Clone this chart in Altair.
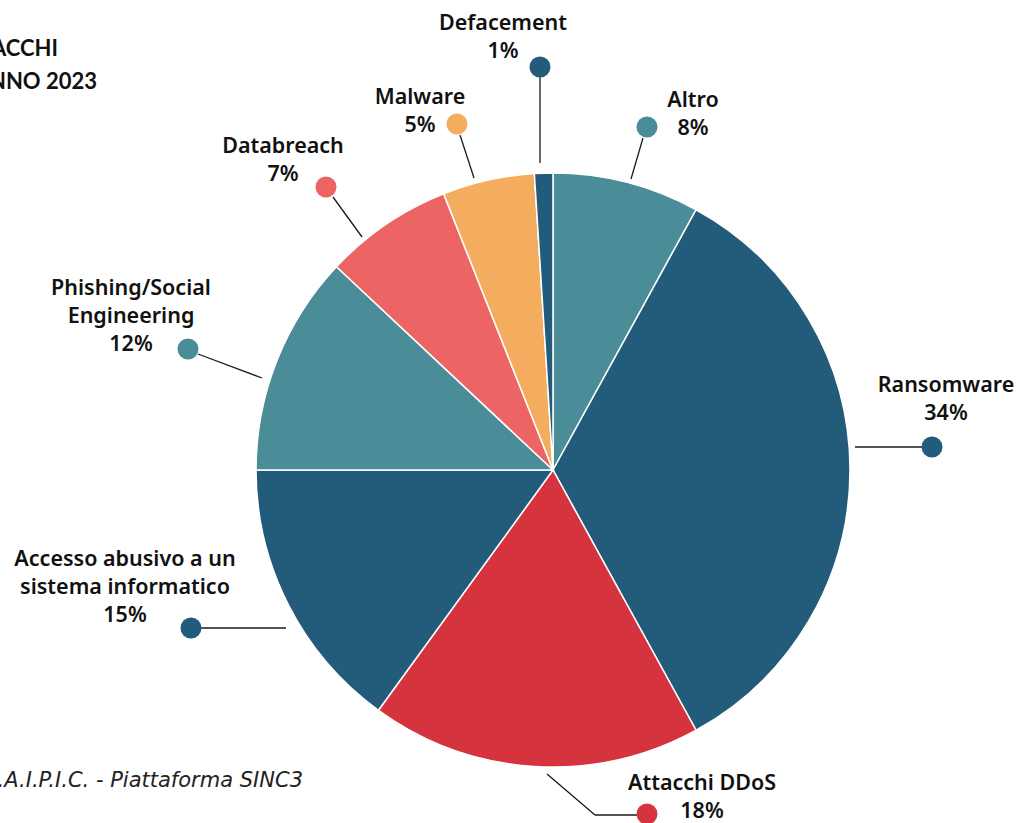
import altair as alt
import pandas as pd

# ---- data ----
categories = ["Altro", "Ransomware", "Attacchi DDoS", "Accesso abusivo a un sistema informatico",
              "Phishing/Social Engineering", "Databreach", "Malware", "Defacement"]
values = [8, 34, 18, 15, 12, 7, 5, 1]
colors = ["#4A8C97", "#225C7A", "#D5343F", "#225C7A", "#4A8C97", "#EC6464", "#F4AC5E", "#225C7A"]
label_lines = [
    ["Altro", "8%"],
    ["Ransomware", "34%"],
    ["Attacchi DDoS", "18%"],
    ["Accesso abusivo a un", "sistema informatico", "15%"],
    ["Phishing/Social", "Engineering", "12%"],
    ["Databreach", "7%"],
    ["Malware", "5%"],
    ["Defacement", "1%"],
]
title_lines = ["TIPOLOGIA ATTACCHI", "ANNO 2023"]
source_text = "Fonte: C.N.A.I.P.I.C. - Piattaforma SINC3"

# ---- layout (annotation placement, pixels) ----
W, H = 1016, 823
CX, CY, R = 553, 470, 297
label_pos = [  # x centre, first baseline
    (693, 107), (946, 392), (702, 790), (125, 566),
    (131, 295), (283, 153), (420, 104), (503, 30),
]
dot_pos = [(647, 127), (932, 447), (647, 814), (191, 628),
           (188, 349), (326, 187), (457, 124), (540, 67)]
leader_segments = [
    [(643, 138, 631, 179)],
    [(855, 447, 922, 447)],
    [(547, 774, 595, 815), (595, 815, 640, 815)],
    [(201, 628, 286, 628)],
    [(198, 354, 262, 378)],
    [(333, 197, 362, 237)],
    [(460, 135, 474, 178)],
    [(540, 77, 540, 163)],
]
LH = 28

pie_df = pd.DataFrame({"cat": categories, "value": values, "idx": range(len(values))})

txt_rows = []
for i, lines in enumerate(label_lines):
    x0, y0 = label_pos[i]
    for j, t in enumerate(lines):
        txt_rows.append({"t": t, "x": x0, "y": y0 + j * LH})
txt_df = pd.DataFrame(txt_rows)

dot_df = pd.DataFrame({"cat": categories, "x": [p[0] for p in dot_pos], "y": [p[1] for p in dot_pos]})

seg_rows = []
for segs in leader_segments:
    for (x1, y1, x2, y2) in segs:
        seg_rows.append({"x": x1, "y": y1, "x2": x2, "y2": y2})
seg_df = pd.DataFrame(seg_rows)

title_df = pd.DataFrame({"t": title_lines, "x": [58, 97], "y": [56, 89]})
src_df = pd.DataFrame({"t": [source_text], "x": [303], "y": [787]})

xs = alt.Scale(domain=[0, W], nice=False, zero=False)
ys = alt.Scale(domain=[0, H], nice=False, zero=False, reverse=True)
cscale = alt.Scale(domain=categories, range=colors)

pie = alt.Chart(pie_df).mark_arc(outerRadius=R, stroke="white", strokeWidth=1.5).encode(
    theta=alt.Theta("value:Q", stack=True),
    order=alt.Order("idx:Q"),
    color=alt.Color("cat:N", scale=cscale, legend=None),
    x=alt.value(CX),
    y=alt.value(CY),
)

segs = alt.Chart(seg_df).mark_rule(color="#1a1a1a", strokeWidth=1.3).encode(
    x=alt.X("x:Q", scale=xs, axis=None),
    y=alt.Y("y:Q", scale=ys, axis=None),
    x2="x2:Q",
    y2="y2:Q",
)

dots = alt.Chart(dot_df).mark_circle(size=440, opacity=1).encode(
    x=alt.X("x:Q", scale=xs, axis=None),
    y=alt.Y("y:Q", scale=ys, axis=None),
    color=alt.Color("cat:N", scale=cscale, legend=None),
)

labels = alt.Chart(txt_df).mark_text(
    font="Noto Sans", fontSize=21.5, fontWeight=600, color="#111111",
    align="center", baseline="alphabetic",
).encode(
    x=alt.X("x:Q", scale=xs, axis=None),
    y=alt.Y("y:Q", scale=ys, axis=None),
    text="t:N",
)

title = alt.Chart(title_df).mark_text(
    font="Lato", fontSize=22, fontWeight="bold", color="#111111",
    align="right", baseline="alphabetic",
).encode(
    x=alt.X("x:Q", scale=xs, axis=None),
    y=alt.Y("y:Q", scale=ys, axis=None),
    text="t:N",
)

source = alt.Chart(src_df).mark_text(
    font="DejaVu Sans", fontSize=21, fontStyle="italic", fontWeight="normal", color="#222222",
    align="right", baseline="alphabetic",
).encode(
    x=alt.X("x:Q", scale=xs, axis=None),
    y=alt.Y("y:Q", scale=ys, axis=None),
    text="t:N",
)

chart = alt.layer(segs, pie, dots, labels, title, source).properties(
    width=W, height=H,
    autosize=alt.AutoSizeParams(type="none"),
    padding=0,
    background="white",
).configure_view(stroke=None)

chart.save("out.html", embed_options={"renderer": "svg", "actions": False})
